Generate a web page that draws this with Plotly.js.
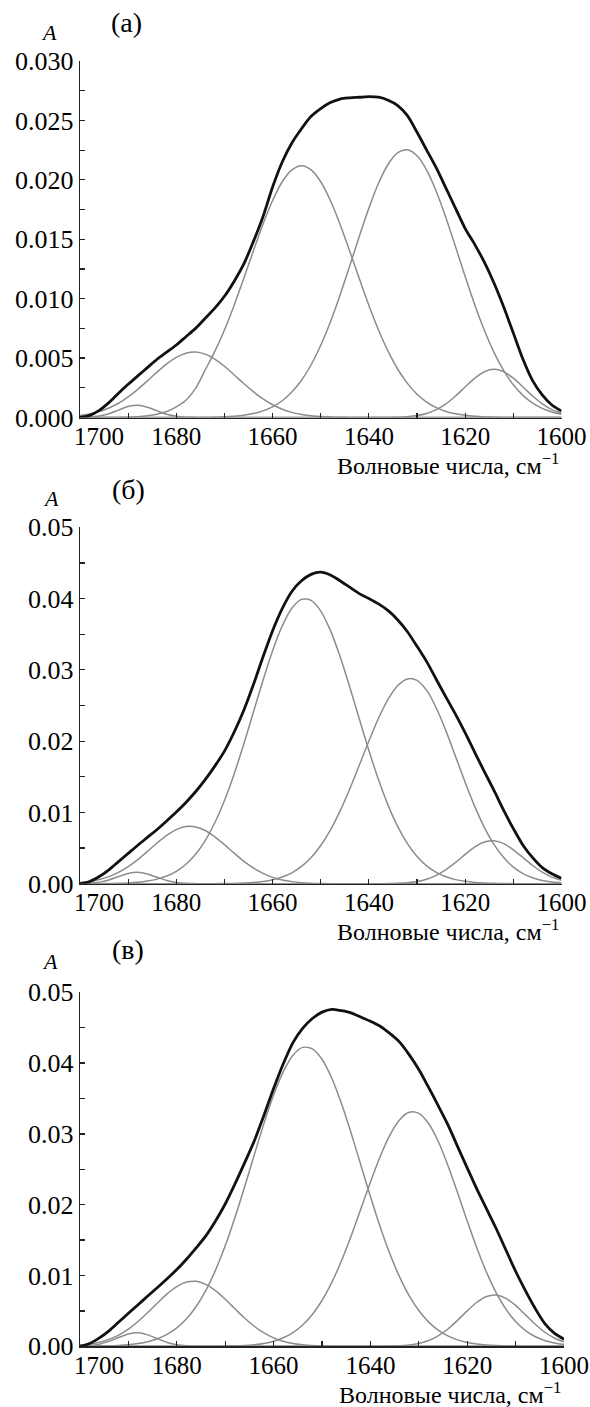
<!DOCTYPE html>
<html>
<head>
<meta charset="utf-8">
<script src="https://cdn.plot.ly/plotly-3.0.1.min.js"></script>
<style>
html,body{margin:0;padding:0;background:#fff;}
#chart{width:590px;height:1407px;}
</style>
</head>
<body>
<div id="chart"></div>
<script>
// Wavenumbers, cm^-1 (shared by every series)
const wn = [1700,1698,1696,1694,1692,1690,1688,1686,1684,1682,1680,1678,1676,1674,1672,1670,1668,1666,1664,1662,1660,1658,1656,1654,1652,1650,1648,1646,1644,1642,1640,1638,1636,1634,1632,1630,1628,1626,1624,1622,1620,1618,1616,1614,1612,1610,1608,1606,1604,1602,1600];

// Panel (а)
const aBlack = [0,0.00018,0.0006,0.00125,0.00205,0.0028,0.0035,0.0042,0.0049,0.0055,0.0061,0.0068,0.0075,0.00835,0.0092,0.0102,0.01145,0.0129,0.0148,0.0169,0.0194,0.0215,0.0231,0.0243,0.02535,0.026,0.0265,0.0268,0.0269,0.02695,0.027,0.02695,0.0267,0.02625,0.0254,0.024,0.0225,0.021,0.0193,0.0176,0.0159,0.01455,0.01305,0.0113,0.0093,0.0071,0.0049,0.0031,0.0019,0.00105,0.00055];
const aC1 = [0.00001,0.00004,0.00013,0.00032,0.00062,0.00092,0.00103,0.00087,0.00056,0.00027,0.0001,0.00003,0.00001,0,0,0,0,0,0,0,0,0,0,0,0,0,0,0,0,0,0,0,0,0,0,0,0,0,0,0,0,0,0,0,0,0,0,0,0,0,0];
const aC2 = [0.00017,0.0003,0.0005,0.0008,0.0012,0.00173,0.00237,0.00308,0.00382,0.00451,0.00506,0.00541,0.00551,0.00533,0.00492,0.00431,0.0036,0.00286,0.00217,0.00156,0.00107,0.0007,0.00043,0.00026,0.00014,0.00008,0.00004,0.00002,0.00001,0,0,0,0,0,0,0,0,0,0,0,0,0,0,0,0,0,0,0,0,0,0];
const aC3 = [0,0,0,0,0.00001,0.00003,0.00007,0.00015,0.00028,0.0005,0.0009,0.00145,0.00245,0.004,0.00556,0.00736,0.00943,0.01169,0.01402,0.01627,0.01826,0.01984,0.02084,0.02119,0.02084,0.01984,0.01826,0.01627,0.01402,0.01169,0.00943,0.00736,0.00556,0.00406,0.00287,0.00196,0.0013,0.00083,0.00051,0.00031,0.00018,0.0001,0.00005,0.00003,0.00001,0.00001,0,0,0,0,0];
const aC4 = [0,0,0,0,0,0,0,0,0,0,0,0,0.00001,0.00001,0.00003,0.00006,0.00011,0.00019,0.00033,0.00056,0.0009,0.00141,0.00214,0.00313,0.00444,0.00608,0.00804,0.01029,0.01274,0.01523,0.01762,0.01971,0.02131,0.02228,0.02253,0.02202,0.02082,0.01902,0.01681,0.01436,0.01186,0.00947,0.00732,0.00546,0.00395,0.00275,0.00186,0.00121,0.00077,0.00047,0.00028];
const aC5 = [0,0,0,0,0,0,0,0,0,0,0,0,0,0,0,0,0,0,0,0,0,0,0,0,0,0,0,0,0,0,0,0,0.00001,0.00003,0.00007,0.00016,0.00034,0.00066,0.00115,0.00181,0.00257,0.00331,0.00385,0.00405,0.00385,0.00331,0.00257,0.00181,0.00115,0.00066,0.00034];

// Panel (б)
const bBlack = [0,0.0003,0.001,0.00195,0.0031,0.00425,0.0054,0.0065,0.0076,0.0088,0.01005,0.0114,0.0129,0.0146,0.0165,0.0186,0.02125,0.0243,0.0279,0.0318,0.0355,0.0386,0.041,0.0425,0.0434,0.0437,0.0433,0.0425,0.0416,0.0407,0.04,0.03925,0.0383,0.037,0.03535,0.0333,0.03115,0.02865,0.02618,0.02375,0.02115,0.0184,0.0157,0.01305,0.01028,0.00773,0.0054,0.00365,0.00225,0.0014,0.00075];
const bC1 = [0.00002,0.00007,0.00022,0.00053,0.001,0.00144,0.0016,0.00137,0.0009,0.00045,0.00018,0.00005,0.00001,0,0,0,0,0,0,0,0,0,0,0,0,0,0,0,0,0,0,0,0,0,0,0,0,0,0,0,0,0,0,0,0,0,0,0,0,0,0];
const bC2 = [0.00017,0.00032,0.00058,0.00099,0.00158,0.00238,0.00338,0.00453,0.00571,0.00678,0.00759,0.00801,0.00796,0.00746,0.00658,0.00548,0.00429,0.00317,0.00221,0.00145,0.00089,0.00052,0.00029,0.00015,0.00007,0.00003,0.00001,0.00001,0,0,0,0,0,0,0,0,0,0,0,0,0,0,0,0,0,0,0,0,0,0,0];
const bC3 = [0,0.00001,0.00001,0.00003,0.00006,0.00011,0.0002,0.00037,0.00064,0.00107,0.00174,0.00273,0.00413,0.00605,0.00855,0.01167,0.01537,0.01956,0.02404,0.02852,0.03269,0.03617,0.03865,0.03989,0.03975,0.03825,0.03554,0.0319,0.02764,0.02313,0.01869,0.01458,0.01099,0.008,0.00562,0.00382,0.0025,0.00158,0.00097,0.00057,0.00033,0.00018,0.0001,0.00005,0.00002,0.00001,0.00001,0,0,0,0];
const bC4 = [0,0,0,0,0,0,0,0,0,0,0,0,0,0,0.00001,0.00002,0.00004,0.00009,0.00017,0.00031,0.00055,0.00094,0.00153,0.00242,0.00367,0.00536,0.00753,0.01019,0.01326,0.01661,0.02002,0.02321,0.0259,0.02781,0.02873,0.02853,0.02712,0.02465,0.02144,0.01784,0.0142,0.01081,0.00787,0.00549,0.00366,0.00233,0.00142,0.00083,0.00046,0.00025,0.00013];
const bC5 = [0,0,0,0,0,0,0,0,0,0,0,0,0,0,0,0,0,0,0,0,0,0,0,0,0,0,0,0,0,0,0,0,0.00002,0.00006,0.00014,0.00031,0.00063,0.00117,0.00196,0.00298,0.00411,0.00515,0.00584,0.00602,0.00562,0.00476,0.00366,0.00255,0.00161,0.00092,0.00048];

// Panel (в)
const cBlack = [0,0.0004,0.00119,0.00219,0.00343,0.00466,0.00588,0.0071,0.00831,0.00955,0.01085,0.0123,0.0139,0.0156,0.0177,0.0201,0.0229,0.0259,0.029,0.0326,0.0364,0.0399,0.0429,0.0449,0.0463,0.0472,0.0476,0.0474,0.0471,0.0465,0.0459,0.0452,0.0442,0.043,0.0412,0.0391,0.0366,0.034,0.0313,0.02824,0.0252,0.0222,0.0194,0.0166,0.0136,0.0106,0.0079,0.0054,0.00325,0.00187,0.001];
const cC1 = [0.00003,0.0001,0.0003,0.00069,0.00124,0.00174,0.0019,0.00161,0.00107,0.00055,0.00022,0.00007,0.00002,0,0,0,0,0,0,0,0,0,0,0,0,0,0,0,0,0,0,0,0,0,0,0,0,0,0,0,0,0,0,0,0,0,0,0,0,0,0];
const cC2 = [0.00016,0.00031,0.00056,0.00097,0.00158,0.00242,0.0035,0.00477,0.00612,0.00741,0.00844,0.00907,0.00918,0.00875,0.00786,0.00665,0.00531,0.00399,0.00283,0.00189,0.00119,0.0007,0.00039,0.00021,0.0001,0.00005,0.00002,0.00001,0,0,0,0,0,0,0,0,0,0,0,0,0,0,0,0,0,0,0,0,0,0,0];
const cC3 = [0.00001,0.00002,0.00003,0.00006,0.00012,0.00022,0.00038,0.00064,0.00106,0.00168,0.00259,0.00388,0.00562,0.0079,0.01076,0.01419,0.01815,0.0225,0.02702,0.03145,0.03548,0.03879,0.04111,0.04222,0.04202,0.04054,0.03789,0.03433,0.03015,0.02566,0.02116,0.01692,0.0131,0.00984,0.00716,0.00505,0.00345,0.00228,0.00147,0.00091,0.00055,0.00032,0.00018,0.0001,0.00005,0.00003,0.00001,0.00001,0,0,0];
const cC4 = [0,0,0,0,0,0,0,0,0,0,0,0,0,0.00001,0.00002,0.00003,0.00006,0.00012,0.00023,0.00041,0.00072,0.0012,0.00193,0.003,0.00449,0.00647,0.00899,0.01204,0.01554,0.01934,0.02318,0.02677,0.0298,0.03197,0.03305,0.03291,0.0315,0.02896,0.02558,0.02171,0.01771,0.01387,0.01044,0.00756,0.00525,0.0035,0.00225,0.00139,0.00082,0.00047,0.00026];
const cC5 = [0,0,0,0,0,0,0,0,0,0,0,0,0,0,0,0,0,0,0,0,0,0,0,0,0,0,0,0,0,0,0,0,0.00003,0.00008,0.00019,0.00041,0.00081,0.00147,0.00244,0.00366,0.005,0.00622,0.00703,0.00724,0.00677,0.00577,0.00447,0.00315,0.00202,0.00117,0.00062];

// Tick labels and texts
const xTickVals = [1680,1660,1640,1620,1600];
const xTickText = ['1680','1660','1640','1620','1600'];
const xFirstLabel = '1700';   // drawn a little to the right of its tick, as in the original
const yTickValsA = [0,0.005,0.01,0.015,0.02,0.025,0.03];
const yTickTextA = ['0.000','0.005','0.010','0.015','0.020','0.025','0.030'];
const yTickValsB = [0,0.01,0.02,0.03,0.04,0.05];
const yTickTextB = ['0.00','0.01','0.02','0.03','0.04','0.05'];
const panelLabels = ['(а)','(б)','(в)'];
const xTitle = 'Волновые числа, см<sup>−1</sup>';
const yTitle = 'A';

const H = 1407, W = 590;
const FONT = 'Liberation Serif';
const panels = [
  {black:aBlack, comps:[aC1,aC2,aC3,aC4,aC5], ymax:0.030, yv:yTickValsA, yt:yTickTextA, ydt:0.0025,
   top:61, bot:417.5, right:561.5, lab:[126,22], A:[49,32], xt:464},
  {black:bBlack, comps:[bC1,bC2,bC3,bC4,bC5], ymax:0.05, yv:yTickValsB, yt:yTickTextB, ydt:0.005,
   top:527.3, bot:883.7, right:561.5, lab:[128,489], A:[51,498], xt:930},
  {black:cBlack, comps:[cC1,cC2,cC3,cC4,cC5], ymax:0.05, yv:yTickValsB, yt:yTickTextB, ydt:0.005,
   top:992.3, bot:1346.3, right:564, lab:[128,950], A:[50,962], xt:1393}
];

const traces = [];
const layout = {
  width: W, height: H, margin:{l:0,r:0,t:0,b:0}, showlegend:false,
  paper_bgcolor:'#fff', plot_bgcolor:'#fff', hovermode:false,
  font:{family:FONT, size:25, color:'#000'}, annotations:[]
};

panels.forEach((p, i) => {
  const n = i === 0 ? '' : String(i + 1);
  const xa = 'x' + n, ya = 'y' + n;
  p.comps.forEach(c => traces.push({x:wn, y:c, xaxis:xa, yaxis:ya, type:'scatter', mode:'lines',
    line:{color:'#8c8c8c', width:1.5, shape:'spline', smoothing:0.8}}));
  traces.push({x:wn, y:p.black, xaxis:xa, yaxis:ya, type:'scatter', mode:'lines',
    line:{color:'#111', width:2.8, shape:'spline', smoothing:0.8}});
  layout['xaxis' + n] = {
    domain:[80/W, p.right/W], anchor:ya, range:[1700,1600], showgrid:false, zeroline:false,
    showline:true, linecolor:'#222', linewidth:1.3, ticks:'inside', ticklen:5, tickcolor:'#222', tickwidth:1.2,
    ticklabelstandoff:-4, ticklabeloverflow:'allow',
    tickvals:xTickVals, ticktext:xTickText, tickfont:{family:FONT, size:25, color:'#000'},
    minor:{dtick:10, tick0:1600, ticks:'inside', ticklen:5, tickcolor:'#222', tickwidth:1.2}
  };
  layout['yaxis' + n] = {
    domain:[1 - p.bot/H, 1 - p.top/H], anchor:xa, range:[0, p.ymax], showgrid:false, zeroline:false,
    showline:true, linecolor:'#222', linewidth:1.3, ticks:'inside', ticklen:5, tickcolor:'#222', tickwidth:1.2,
    tickvals:p.yv, ticktext:p.yt, tickfont:{family:FONT, size:26, color:'#000'},
    minor:{dtick:p.ydt, tick0:0, ticks:'inside', ticklen:5, tickcolor:'#222', tickwidth:1.2}
  };
  layout.annotations.push(
    {xref:'paper', yref:'paper', x:99/W, y:1 - (p.bot + 19)/H, xanchor:'center', yanchor:'middle',
     text:xFirstLabel, showarrow:false, font:{family:FONT, size:25, color:'#000'}},
    {xref:'paper', yref:'paper', x:p.lab[0]/W, y:1 - p.lab[1]/H, xanchor:'center', yanchor:'middle',
     text:panelLabels[i], showarrow:false, font:{family:FONT, size:28, color:'#000'}},
    {xref:'paper', yref:'paper', x:p.A[0]/W, y:1 - p.A[1]/H, xanchor:'center', yanchor:'middle',
     text:'<i>' + yTitle + '</i>', showarrow:false, font:{family:FONT, size:22, color:'#000'}},
    {xref:'paper', yref:'paper', x:p.right/W, y:1 - p.xt/H, xanchor:'right', yanchor:'middle',
     text:xTitle, showarrow:false, font:{family:FONT, size:24, color:'#000'}}
  );
});

Plotly.newPlot('chart', traces, layout, {staticPlot:true, displayModeBar:false});
</script>
</body>
</html>
